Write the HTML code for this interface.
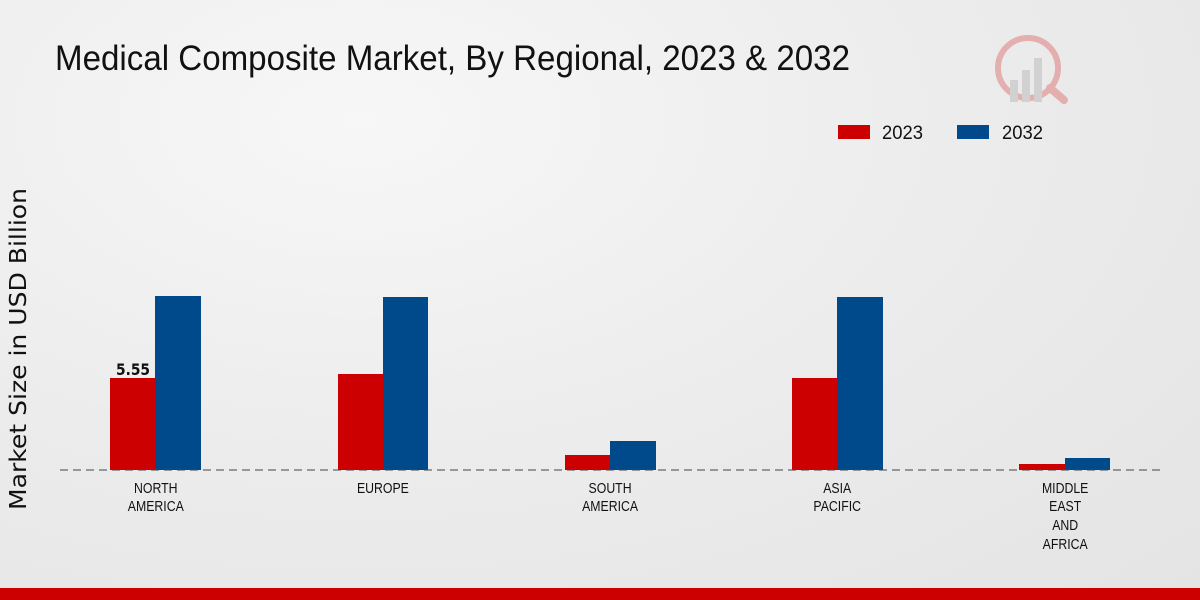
<!DOCTYPE html>
<html><head><meta charset="utf-8"><style>
body{margin:0;width:1200px;height:600px;overflow:hidden;background:radial-gradient(ellipse at 30% 20%,#f7f7f7 0%,#ececec 50%,#e4e4e4 100%);font-family:"Liberation Sans",sans-serif;}
</style></head><body>
<svg width="1200" height="600" xmlns="http://www.w3.org/2000/svg" style="position:absolute;left:0;top:0">
<text x="55" y="70" font-size="35" fill="#111" textLength="795" lengthAdjust="spacingAndGlyphs">Medical Composite Market, By Regional, 2023 &amp; 2032</text>
<g opacity="0.25">
<circle cx="1028" cy="68" r="30" fill="none" stroke="#c00" stroke-width="6"/>
<rect x="1010" y="80" width="8" height="22" fill="#888"/><rect x="1022" y="70" width="8" height="32" fill="#888"/><rect x="1034" y="58" width="8" height="44" fill="#888"/>
<line x1="1050" y1="88" x2="1064" y2="100" stroke="#c00" stroke-width="8" stroke-linecap="round"/>
</g>
<rect x="838" y="125" width="32" height="14" fill="#cc0000"/>
<text x="882" y="139" font-size="19" fill="#111" textLength="41" lengthAdjust="spacingAndGlyphs">2023</text>
<rect x="957" y="125" width="32" height="14" fill="#004a8c"/>
<text x="1002" y="139" font-size="19" fill="#111" textLength="41" lengthAdjust="spacingAndGlyphs">2032</text>
<text transform="translate(26,349) rotate(-90)" text-anchor="middle" font-size="23" fill="#111" font-family="DejaVu Sans, sans-serif" textLength="322" lengthAdjust="spacingAndGlyphs">Market Size in USD Billion</text>
<g fill="#cc0000">
<rect x="110" y="378" width="45" height="92"/><rect x="338" y="374" width="45" height="96"/><rect x="565" y="455" width="45" height="15"/><rect x="792" y="378" width="45" height="92"/><rect x="1019" y="464" width="46" height="6"/>
</g>
<g fill="#004a8c">
<rect x="155" y="296" width="46" height="174"/><rect x="383" y="297" width="45" height="173"/><rect x="610" y="441" width="46" height="29"/><rect x="837" y="297" width="46" height="173"/><rect x="1065" y="458" width="45" height="12"/>
</g>
<line x1="60" y1="470" x2="1160" y2="470" stroke="#444" stroke-width="1" stroke-dasharray="8,5"/>
<text x="133" y="375" text-anchor="middle" font-size="16" font-weight="bold" fill="#111" font-family="DejaVu Sans, sans-serif" textLength="34" lengthAdjust="spacingAndGlyphs">5.55</text>
<g font-size="15" fill="#111" text-anchor="middle" transform="scale(0.82,1)">
<text x="190" y="493">NORTH</text><text x="190" y="511">AMERICA</text>
<text x="467" y="493">EUROPE</text>
<text x="744" y="493">SOUTH</text><text x="744" y="511">AMERICA</text>
<text x="1021" y="493">ASIA</text><text x="1021" y="511">PACIFIC</text>
<text x="1299" y="493">MIDDLE</text><text x="1299" y="511">EAST</text><text x="1299" y="530">AND</text><text x="1299" y="549">AFRICA</text>
</g>
<rect x="0" y="588" width="1200" height="12" fill="#cc0000"/>
</svg>
</body></html>
